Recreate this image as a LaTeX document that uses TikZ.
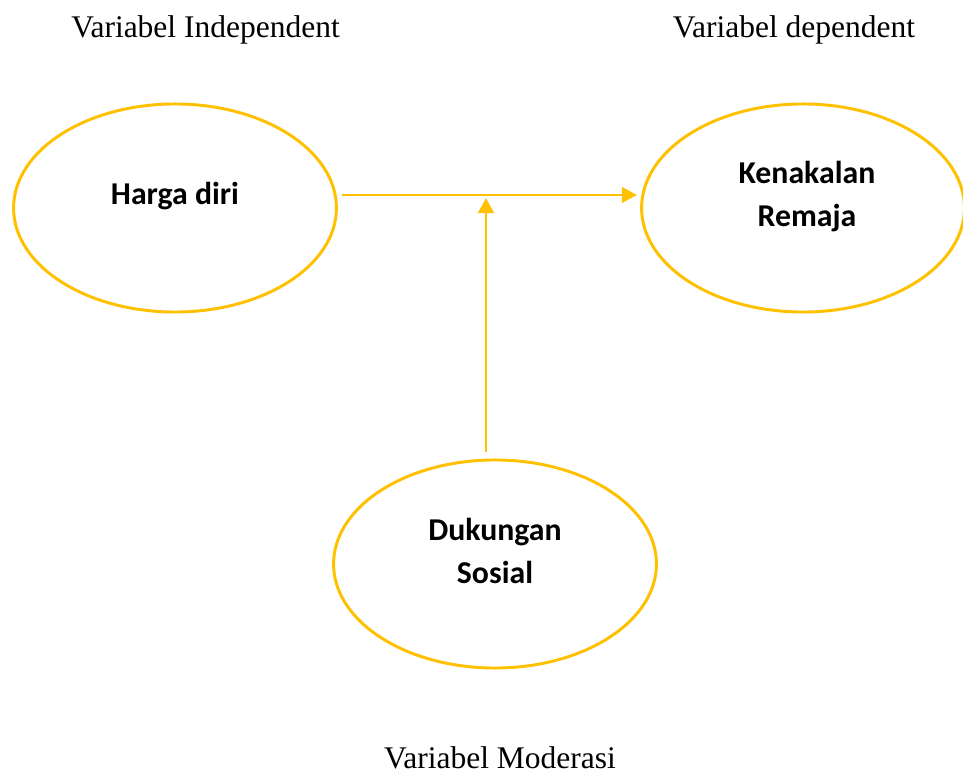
\documentclass[tikz,border=0pt]{standalone}
\usepackage{fontspec}
\setmainfont{Liberation Serif}
\newfontfamily\calibfont{Carlito}
\usetikzlibrary{arrows.meta,shapes.geometric}
\definecolor{gold}{HTML}{FFC000}

\begin{document}
\begin{tikzpicture}[x=0.025cm, y=-0.025cm,
    oval/.style={ellipse, draw=gold, line width=2.1pt, minimum width=8.07cm,
      minimum height=5.2cm, inner sep=0pt},
    varname/.style={font=\calibfont\bfseries\fontsize{22.6}{30.6}\selectfont,
      align=center, anchor=base},
    caption/.style={font=\fontsize{22.4}{26}\selectfont, anchor=base, inner sep=1pt},
    link/.style={draw=gold, line width=1.9pt,
      -{Triangle[width=0.39cm,length=0.375cm]}}]
  \useasboundingbox (0,0) rectangle (963,774);

  % captions
  \node[caption] (capind) at (205.5,38) {Variabel Independent};
  \node[caption] (capdep) at (794,38) {Variabel dependent};
  \node[caption] (capmod) at (500,768) {Variabel Moderasi};

  % variables
  \node[oval] (harga) at (175,208) {};
  \node[oval] (remaja) at (803,208) {};
  \node[oval] (dukungan) at (495,564) {};
  \node[varname] (hargatxt) at (175,205) {Harga diri};
  \node[varname] (remajatxt) at (807,227) {Kenakalan\\Remaja};
  \node[varname] (dukungantxt) at (495,584) {Dukungan\\Sosial};

  % paths
  \coordinate (join) at (486,195);
  \draw[link, shorten <=0.11cm, shorten >=0.08cm] (harga.east |- join) -- (remaja.west |- join);
  \draw[link, shorten <=0.17cm, shorten >=0.075cm] (dukungan.north -| join) -- (join);
\end{tikzpicture}
\end{document}
